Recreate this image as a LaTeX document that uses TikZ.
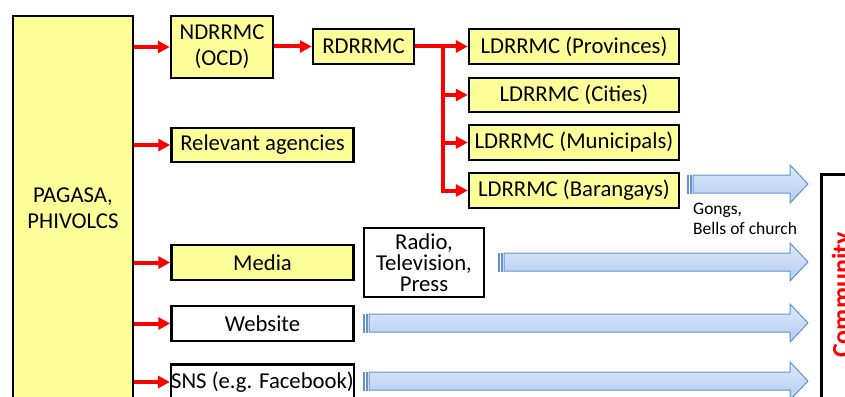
\documentclass[tikz,border=0pt]{standalone}
\usepackage{fontspec}
\setmainfont{Carlito}
\usetikzlibrary{arrows.meta}
\definecolor{boxyellow}{RGB}{255,255,153}
\definecolor{arrowedge}{RGB}{100,145,210}
\definecolor{arrowtop}{RGB}{222,233,250}
\definecolor{arrowbot}{RGB}{180,205,240}
\tikzset{
  box/.style={draw=black, line width=2.5pt, fill=boxyellow, inner sep=0pt, align=center,
    font=\fontsize{22.7}{26}\selectfont},
  wbox/.style={box, fill=white},
  redarrow/.style={draw=red, line width=4pt, -{Triangle[length=12pt,width=12pt]}},
  redline/.style={draw=red, line width=4pt},
  barrow/.style={draw=arrowedge, line width=1pt, top color=arrowtop, bottom color=arrowbot},
  bstripe/.style={draw=arrowedge, line width=0.6pt, fill=arrowbot},
}
\newcommand\blockarrow[3]{%
  \path[barrow] (#1+6,#3-9) -- (#2-18,#3-9) -- (#2-18,#3-19) -- (#2,#3)
     -- (#2-18,#3+19) -- (#2-18,#3+9) -- (#1+6,#3+9) -- cycle;
  \path[bstripe] (#1,#3-9) rectangle (#1+1.5,#3+9);
  \path[bstripe] (#1+3,#3-9) rectangle (#1+4.5,#3+9);
}
\begin{document}
\begin{tikzpicture}[x=1pt,y=-1pt]
\useasboundingbox (0,0) rectangle (845,396);
\clip (0,0) rectangle (845,396);

% boxes
\node[box, minimum width=120pt, minimum height=384pt] (pag) at (73,208) {PAGASA,\\PHIVOLCS};
\node[box, minimum width=102pt, minimum height=62pt] (ndr) at (222,47) {NDRRMC\\(OCD)};
\node[box, minimum width=101pt, minimum height=35pt] (rdr) at (363.5,46.5) {RDRRMC};
\node[box, minimum width=210pt, minimum height=35pt] (prov) at (574,46.5) {LDRRMC (Provinces)};
\node[box, minimum width=210pt, minimum height=34pt] (cities) at (574,95) {LDRRMC (Cities)};
\node[box, minimum width=210pt, minimum height=35pt] (mun) at (574,142.5) {LDRRMC (Municipals)};
\node[box, minimum width=210pt, minimum height=35pt] (bar) at (574,190.5) {LDRRMC (Barangays)};
\node[box, minimum width=182pt, minimum height=34pt] (rel) at (262.5,145) {Relevant agencies};
\node[box, minimum width=182pt, minimum height=35pt] (media) at (262.5,262.5) {Media};
\node[wbox, minimum width=120pt, minimum height=69pt, font=\fontsize{22.7}{21}\selectfont] (radio) at (424,262.5) {Radio,\\Television,\\Press};
\node[wbox, minimum width=182pt, minimum height=35pt] (web) at (262.5,323.5) {Website};
\node[wbox, minimum width=182pt, minimum height=35pt] (sns) at (262.5,382) {SNS (e.g. Facebook)};

% community
\node[draw=black, line width=2.5pt, minimum width=50pt, minimum height=257pt, anchor=north west] (commbox) at (820,173) {};
\node[rotate=90, text=red, inner sep=0pt, font=\fontsize{26}{30}\selectfont\bfseries] (comm) at (843,295) {Community};

% red connectors
\draw[redarrow] (pag.east |- ndr) -- (ndr.west);
\draw[redarrow] (pag.east |- rel) -- (rel.west);
\draw[redarrow] (pag.east |- media) -- (media.west);
\draw[redarrow] (pag.east |- web) -- (web.west);
\draw[redarrow] (pag.east |- sns) -- (sns.west);
\draw[redarrow] (ndr.east |- rdr) -- (rdr.west);
\coordinate (br) at (443,46.5);
\draw[redarrow] (rdr.east) -- (prov.west);
\draw[redarrow] (br) |- (cities.west);
\draw[redarrow] (br) |- (mun.west);
\draw[redarrow] (br) |- (bar.west);

% block arrows
\blockarrow{687}{808}{184}
\blockarrow{498}{808}{262}
\blockarrow{363}{808}{323}
\blockarrow{363}{808}{381}

\node[anchor=north west, align=left, inner sep=0pt, font=\fontsize{17.5}{20}\selectfont] (gongs) at (693,203) {Gongs,\\Bells of church};
\end{tikzpicture}
\end{document}
